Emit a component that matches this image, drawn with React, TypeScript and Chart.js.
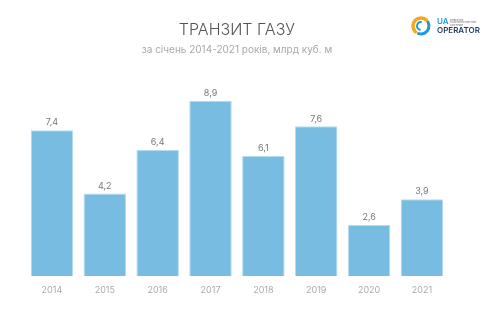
import React, { useEffect, useRef } from "react";
import { Chart, registerables } from "chart.js";

Chart.register(...registerables);

const years = ["2014", "2015", "2016", "2017", "2018", "2019", "2020", "2021"];
const transit = [7.4, 4.2, 6.4, 8.9, 6.1, 7.6, 2.6, 3.9];
const valueLabels = ["7,4", "4,2", "6,4", "8,9", "6,1", "7,6", "2,6", "3,9"];
const titleText = "ТРАНЗИТ ГАЗУ";
const subtitleText = "за січень 2014-2021 років, млрд куб. м";

const FONT = "Inter, 'Open Sans', 'DejaVu Sans', sans-serif";

const decorPlugin = {
  id: "decor",
  afterDatasetsDraw(chart: any) {
    const ctx = chart.ctx;
    const ca = chart.chartArea;
    const cx = (ca.left + ca.right) / 2;
    ctx.save();
    // title
    ctx.textAlign = "center";
    ctx.textBaseline = "middle";
    ctx.fillStyle = "#555555";
    ctx.font = `300 16px ${FONT}`;
    ctx.fillText(titleText, cx, 30);
    ctx.fillStyle = "#a8a8a8";
    ctx.font = `400 10px ${FONT}`;
    ctx.fillText(subtitleText, cx, 50);

    // value labels
    const meta = chart.getDatasetMeta(0);
    ctx.fillStyle = "#777777";
    ctx.font = `400 9px ${FONT}`;
    ctx.textBaseline = "bottom";
    meta.data.forEach((bar: any, i: number) => {
      ctx.fillText(valueLabels[i], bar.x, bar.y - 3);
    });

    // logo
    const lx = 421, ly = 26;
    ctx.lineCap = "round";
    ctx.strokeStyle = "#f6a81c";
    ctx.lineWidth = 3.5;
    ctx.beginPath();
    ctx.arc(lx, ly, 8, Math.PI * 0.75, Math.PI * 1.75);
    ctx.stroke();
    ctx.strokeStyle = "#1d9ad6";
    ctx.lineWidth = 3;
    ctx.beginPath();
    ctx.arc(lx, ly, 8, Math.PI * 1.85, Math.PI * 2.6);
    ctx.stroke();
    ctx.lineWidth = 2;
    ctx.beginPath();
    ctx.arc(lx, ly, 4, Math.PI * 0.6, Math.PI * 1.5);
    ctx.stroke();
    ctx.textAlign = "left";
    ctx.textBaseline = "middle";
    ctx.fillStyle = "#1d9ad6";
    ctx.font = `600 8px ${FONT}`;
    ctx.fillText("UA", 437, 22);
    ctx.fillStyle = "#555";
    ctx.font = `400 2.5px ${FONT}`;
    ctx.fillText("ОПЕРАТОР", 450, 20);
    ctx.fillText("ГАЗОТРАНСПОРТНОЇ", 450, 22.5);
    ctx.fillText("СИСТЕМИ", 450, 25);
    ctx.fillStyle = "#1f3a5c";
    ctx.font = `600 8px ${FONT}`;
    ctx.fillText("OPERATOR", 437, 31);
    ctx.restore();
  },
};

export default function App() {
  const ref = useRef<HTMLCanvasElement>(null);
  useEffect(() => {
    const chart = new Chart(ref.current!, {
      type: "bar",
      data: {
        labels: years,
        datasets: [
          {
            data: transit,
            backgroundColor: "#78bce1",
            borderColor: "#b4dcf2",
            borderWidth: 1,
            barPercentage: 0.804,
            categoryPercentage: 1,
          },
        ],
      },
      options: {
        responsive: false,
        animation: false,
        layout: { padding: { top: 79, left: 25.5, right: 45.6, bottom: 17 } },
        plugins: { legend: { display: false }, tooltip: { enabled: false }, title: { display: false } },
        scales: {
          y: { display: false, min: 0, max: 10 },
          x: {
            grid: { display: false, drawTicks: false },
            border: { display: false },
            ticks: { color: "#ababab", font: { family: FONT, size: 9 }, padding: 9 },
          },
        },
      },
      plugins: [decorPlugin],
    });
    return () => chart.destroy();
  }, []);
  return (
    <div style={{ position: "fixed", left: 0, top: 0, width: 494, height: 322, background: "#fff" }}>
      <canvas ref={ref} width={494} height={322} style={{ width: 494, height: 322 }} />
    </div>
  );
}
